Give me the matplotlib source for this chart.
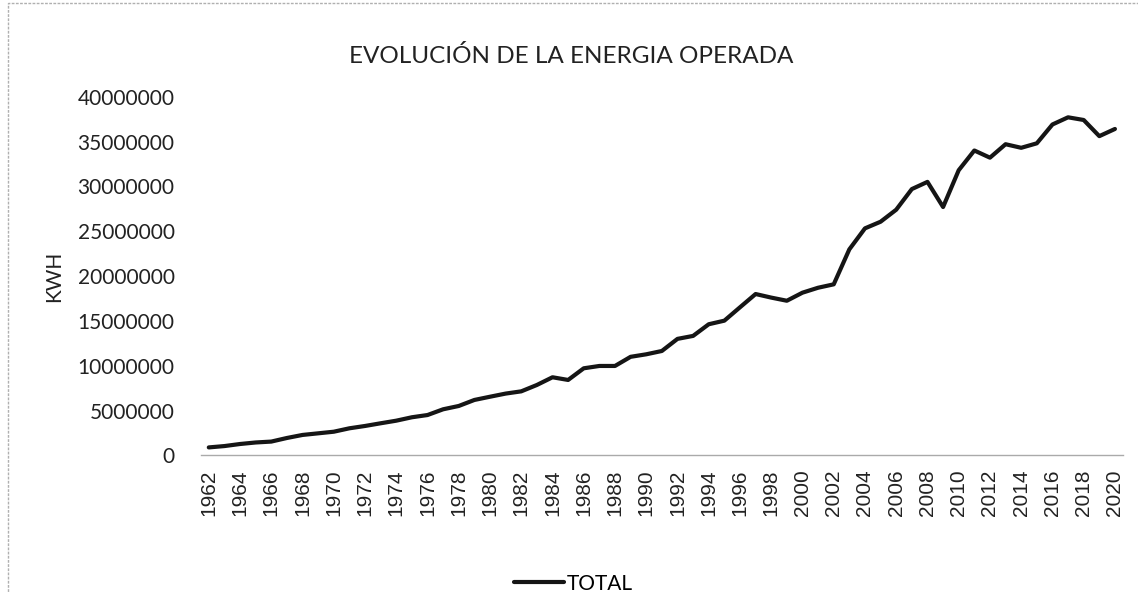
import numpy as np
import matplotlib.pyplot as plt
from matplotlib.patches import Rectangle

years = list(range(1962, 2021))
# energia operada, KWH
total = [900000, 1050000, 1280000, 1450000, 1550000, 1950000, 2290000, 2470000,
         2650000, 3030000, 3290000, 3590000, 3880000, 4260000, 4510000, 5150000,
         5520000, 6190000, 6550000, 6900000, 7150000, 7860000, 8720000, 8420000,
         9720000, 9980000, 9980000, 11000000, 11280000, 11650000, 13000000, 13330000,
         14630000, 15030000, 16520000, 18000000, 17600000, 17250000, 18150000, 18700000,
         19080000, 22980000, 25320000, 26060000, 27400000, 29700000, 30500000, 27700000,
         31800000, 34000000, 33200000, 34700000, 34300000, 34800000, 36900000, 37700000,
         37400000, 35600000, 36400000]
yticks = list(range(0, 40000001, 5000000))
xlabels = [str(y) for y in years[::2]]

fig = plt.figure(figsize=(11.38, 5.92), dpi=100)
ax = fig.add_axes([0.1766, 0.2306, 0.81, 0.6061])

ax.plot(years, total, color='#151515', lw=3, solid_capstyle='round',
        solid_joinstyle='round', label='TOTAL')

ax.set_xlim(1961.5, 2020.5)
ax.set_ylim(0, 40000000)
ax.set_yticks(yticks)
ax.set_yticklabels([str(v) for v in yticks], family='Lato', fontsize=15, color='#222222')
ax.set_xticks(years[::2])
ax.set_xticklabels(xlabels, rotation=90, family='Liberation Sans', fontsize=15,
                   color='#222222')
ax.tick_params(axis='y', length=0, pad=19)
ax.tick_params(axis='x', length=0, pad=10)

for s in ['top', 'right', 'left']:
    ax.spines[s].set_visible(False)
ax.spines['bottom'].set_color('#aaaaaa')
ax.spines['bottom'].set_linewidth(1)

ax.set_ylabel('KWH', family='Lato', fontsize=15, color='#222222', labelpad=10)
fig.text(0.502, 0.905, 'EVOLUCIÓN DE LA ENERGIA OPERADA', ha='center', va='center',
         family='Lato', fontsize=17.5, color='#222222')

ax.legend(loc='center', bbox_to_anchor=(0.404, -0.357), frameon=False,
          prop={'family': 'Lato', 'size': 15}, handlelength=2.4, handletextpad=0.1)

fig.patches.append(Rectangle((0.007, -0.01), 1.1, 1.005, transform=fig.transFigure,
                             fill=False, edgecolor='#b0b0b0', lw=1, ls=(0, (2, 1))))

fig.savefig('out.png', dpi=100)
